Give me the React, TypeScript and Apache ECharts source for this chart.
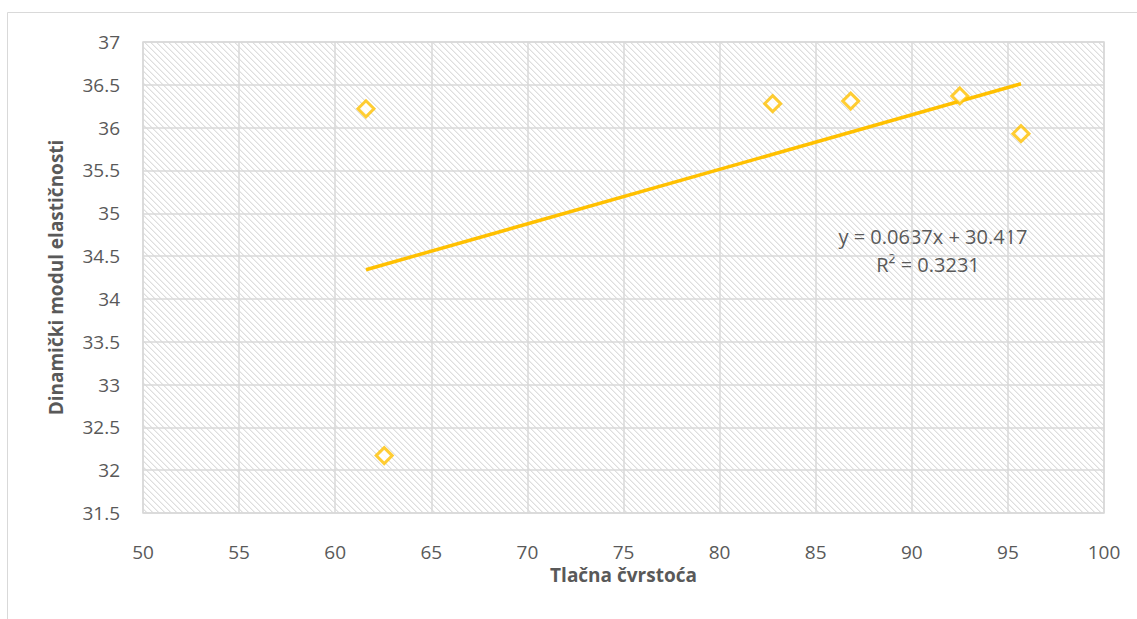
import React, { useEffect, useRef } from "react";
import * as echarts from "echarts";

const xValues = [61.6, 62.55, 82.76, 86.82, 92.5, 95.68];
const yValues = [36.22, 32.17, 36.28, 36.31, 36.37, 35.93];
const trendSlope = 0.0637;
const trendIntercept = 30.417;
const equationLabel = "y = 0.0637x + 30.417";
const r2Label = "R² = 0.3231";
const xAxisName = "Tlačna čvrstoća";
const yAxisName = "Dinamički modul elastičnosti";

function makeHatch(): HTMLCanvasElement {
  const c = document.createElement("canvas");
  const n = 6;
  c.width = n;
  c.height = n;
  const ctx = c.getContext("2d")!;
  ctx.fillStyle = "#ffffff";
  ctx.fillRect(0, 0, n, n);
  for (let y = 0; y < n; y++) {
    for (let x = 0; x < n; x++) {
      const d = (((x - y) % n) + n) % n;
      if (d === 0) {
        ctx.fillStyle = "#dedede";
        ctx.fillRect(x, y, 1, 1);
      } else if (d === 1) {
        ctx.fillStyle = "#efefef";
        ctx.fillRect(x, y, 1, 1);
      }
    }
  }
  return c;
}

export default function App() {
  const ref = useRef<HTMLDivElement>(null);
  useEffect(() => {
    if (!ref.current) return;
    const chart = echarts.init(ref.current, null, { renderer: "svg" });
    const xMin = Math.min(...xValues);
    const xMax = Math.max(...xValues);
    const trend = [
      [xMin, trendSlope * xMin + trendIntercept],
      [xMax, trendSlope * xMax + trendIntercept],
    ];
    const font = "'Open Sans', sans-serif";
    chart.setOption({
      animation: false,
      backgroundColor: "#ffffff",
      textStyle: { fontFamily: font },
      grid: {
        left: 143,
        right: 33,
        top: 42,
        bottom: 106,
        show: true,
        backgroundColor: { image: makeHatch(), repeat: "repeat" } as any,
        borderColor: "#d9d9d9",
        borderWidth: 1.5,
      },
      graphic: [
        { type: "line", shape: { x1: 7.5, y1: 12.5, x2: 1137, y2: 12.5 }, style: { stroke: "#d9d9d9", lineWidth: 1 } },
        { type: "line", shape: { x1: 7.5, y1: 12.5, x2: 7.5, y2: 619 }, style: { stroke: "#d9d9d9", lineWidth: 1 } },
        {
          type: "text",
          x: 933,
          y: 236,
          style: { text: equationLabel, fill: "#595959", font: `20px ${font}`, textAlign: "center", textVerticalAlign: "middle" },
        },
        {
          type: "text",
          x: 928,
          y: 264,
          style: { text: r2Label, fill: "#595959", font: `20px ${font}`, textAlign: "center", textVerticalAlign: "middle" },
        },
      ],
      xAxis: {
        type: "value",
        min: 50,
        max: 100,
        interval: 5,
        name: xAxisName,
        nameLocation: "middle",
        nameGap: 52,
        nameTextStyle: { color: "#595959", fontSize: 19, fontWeight: "bold", fontFamily: font },
        axisLine: { show: false },
        axisTick: { show: false },
        axisLabel: { color: "#595959", fontSize: 19, margin: 29, fontFamily: font },
        splitLine: { lineStyle: { color: "#d9d9d9", width: 1.5 } },
      },
      yAxis: {
        type: "value",
        min: 31.5,
        max: 37,
        interval: 0.5,
        name: yAxisName,
        nameLocation: "middle",
        nameGap: 78,
        nameTextStyle: { color: "#595959", fontSize: 19, fontWeight: "bold", fontFamily: font },
        axisLine: { show: false },
        axisTick: { show: false },
        axisLabel: { color: "#595959", fontSize: 19, margin: 23, fontFamily: font },
        splitLine: { lineStyle: { color: "#d9d9d9", width: 1.5 } },
      },
      series: [
        {
          type: "line",
          data: trend,
          symbol: "none",
          lineStyle: { color: "#FFC000", width: 3.5 },
          z: 2,
        },
        {
          type: "scatter",
          data: xValues.map((x, i) => [x, yValues[i]]),
          symbol: "diamond",
          symbolSize: 16,
          itemStyle: { color: "#ffffff", borderColor: "#FFC000", borderWidth: 3 },
          z: 3,
        },
      ],
    });
    return () => chart.dispose();
  }, []);
  return <div ref={ref} style={{ position: "absolute", left: 0, top: 0, width: 1137, height: 619 }} />;
}
